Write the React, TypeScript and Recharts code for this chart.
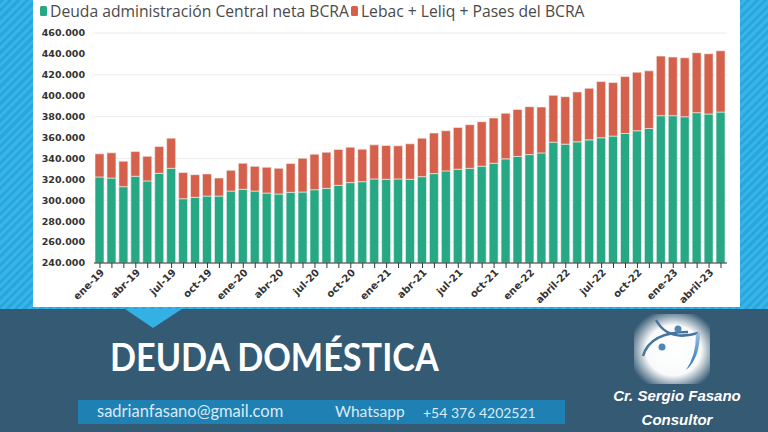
import React from 'react';
import { BarChart, Bar, XAxis, YAxis, CartesianGrid, Legend } from 'recharts';

const categories = [
  'ene-19', 'feb-19', 'mar-19', 'abr-19', 'may-19', 'jun-19', 'jul-19', 'ago-19', 'sep-19', 'oct-19', 'nov-19', 'dic-19',
  'ene-20', 'feb-20', 'mar-20', 'abr-20', 'may-20', 'jun-20', 'jul-20', 'ago-20', 'sep-20', 'oct-20', 'nov-20', 'dic-20',
  'ene-21', 'feb-21', 'mar-21', 'abr-21', 'may-21', 'jun-21', 'jul-21', 'ago-21', 'sep-21', 'oct-21', 'nov-21', 'dic-21',
  'ene-22', 'feb-22', 'mar-22', 'abril-22', 'may-22', 'jun-22', 'jul-22', 'ago-22', 'sep-22', 'oct-22', 'nov-22', 'dic-22',
  'ene-23', 'feb-23', 'mar-23', 'abril-23', 'may-23',
];

const deudaCentral = [
  322300, 321300, 313000, 323000, 318500, 325800, 330600, 301500, 302800, 304000, 304000, 308800,
  310500, 308800, 306900, 306000, 307600, 307900, 310100, 311400, 314300, 316900, 317800, 320400,
  320100, 320400, 320100, 322600, 325500, 328100, 329700, 330600, 332600, 335400, 339600, 342000,
  343700, 345300, 355600, 353700, 355900, 357800, 359800, 361400, 363900, 366500, 368700, 380900,
  380900, 379900, 383800, 382500, 384400,
];

const lebacLeliqPases = [
  22100, 24100, 24400, 23600, 23500, 25600, 28800, 25000, 21700, 21200, 17300, 19900,
  24900, 23700, 24700, 24600, 27500, 32300, 34000, 34600, 34300, 33900, 31100, 32600,
  32300, 31700, 33900, 36800, 38800, 38400, 40000, 41700, 42500, 43300, 43600, 44800,
  45800, 43900, 44800, 45400, 47700, 49300, 53700, 51200, 54400, 56000, 55100, 57000,
  56100, 56400, 57300, 57600, 58600,
];

const yTicks = [240000, 260000, 280000, 300000, 320000, 340000, 360000, 380000, 400000, 420000, 440000, 460000];

const seriesNames = ['Deuda administración Central neta BCRA', 'Lebac + Leliq + Pases del BCRA'];
const seriesColors = ['#27a884', '#d5604b'];

const data = categories.map((mes, i) => ({
  mes,
  central: deudaCentral[i],
  lebac: lebacLeliqPases[i],
}));

const fmt = (v: number) => String(Math.round(v)).replace(/\B(?=(\d{3})+(?!\d))/g, '.');

const XTick = (props: any) => {
  const { x, y, payload } = props;
  const i = props.index ?? payload?.index ?? 0;
  if (i % 3 !== 0) return <g />;
  return (
    <g transform={`translate(${x},${y})`}>
      <text
        x={0}
        y={0}
        dy="0.71em"
        textAnchor="end"
        transform="rotate(-45)"
        fontFamily="DejaVu Sans"
        fontWeight="bold"
        fontSize={10}
        fill="#333"
      >
        {payload.value}
      </text>
    </g>
  );
};

const renderLegend = () => (
  <div
    style={{
      height: 32,
      display: 'flex',
      alignItems: 'flex-start',
      paddingLeft: 3,
      fontFamily: '"Open Sans", sans-serif',
      fontSize: 15.7,
      color: '#4a4a4a',
      lineHeight: '20px',
      whiteSpace: 'nowrap',
    }}
  >
    {seriesNames.map((n, i) => (
      <span key={n} style={{ display: 'flex', alignItems: 'center', marginRight: 2 }}>
        <span
          style={{
            display: 'inline-block',
            width: 7,
            height: 10,
            borderRadius: 1.5,
            background: seriesColors[i],
            marginRight: 3,
          }}
        />
        {n}
      </span>
    ))}
  </div>
);

const Logo = () => (
  <svg width={80} height={74} style={{ position: 'absolute', left: 632, top: 312 }}>
    <defs>
      <radialGradient id="glow" cx="52%" cy="52%" r="60%">
        <stop offset="0%" stopColor="#ffffff" stopOpacity={1} />
        <stop offset="60%" stopColor="#ffffff" stopOpacity={0.97} />
        <stop offset="100%" stopColor="#ffffff" stopOpacity={0} />
      </radialGradient>
      <linearGradient id="swoosh" x1="0" y1="0" x2="0" y2="1">
        <stop offset="0%" stopColor="#9cc2e0" />
        <stop offset="100%" stopColor="#1f6fb8" />
      </linearGradient>
    </defs>
    <rect x={2} y={2} width={76} height={70} rx={14} fill="url(#glow)" />
    <path d="M 24 8 Q 36 30 66 21" stroke="#45759c" strokeWidth={2.5} fill="none" />
    <path d="M 11 44 Q 18 20 56 20" stroke="#45759c" strokeWidth={2.5} fill="none" />
    <path d="M 68 20 Q 68 46 54 58 Q 64 44 64 22 Z" fill="url(#swoosh)" />
    <circle cx={46} cy={17} r={3.5} fill="#4f87b4" />
    <circle cx={30} cy={35} r={3.5} fill="#4f87b4" />
  </svg>
);

const footerText: React.CSSProperties = {
  position: 'absolute',
  top: 402,
  fontFamily: 'Lato, sans-serif',
  fontSize: 15.5,
  lineHeight: '19px',
  color: '#dbeaf2',
  whiteSpace: 'nowrap',
};

const signText: React.CSSProperties = {
  position: 'absolute',
  left: 604,
  width: 146,
  textAlign: 'center',
  fontFamily: 'Liberation Sans, Arial, sans-serif',
  fontWeight: 700,
  fontStyle: 'italic',
  fontSize: 15,
  lineHeight: '20px',
  color: '#ffffff',
  whiteSpace: 'nowrap',
};

export default function App() {
  return (
    <div
      style={{
        position: 'absolute',
        left: 0,
        top: 0,
        width: 768,
        height: 432,
        overflow: 'hidden',
        background:
          'repeating-linear-gradient(135deg, #27a7df 0px, #27a7df 3px, #3ab3e6 3px, #3ab3e6 6px)',
      }}
    >
      <div style={{ position: 'absolute', left: 33, top: 0, width: 707, height: 307, background: '#ffffff' }}>
        <BarChart
          width={707}
          height={307}
          data={data}
          margin={{ top: 1, right: 13, bottom: 4, left: 4 }}
        >
          <CartesianGrid vertical={false} stroke="#ececec" />
          <XAxis
            dataKey="mes"
            interval={0}
            height={40}
            tick={XTick}
            tickSize={5}
            tickMargin={0}
            axisLine={{ stroke: '#333' }}
            tickLine={{ stroke: '#333' }}
          />
          <YAxis
            width={57}
            domain={[240000, 460000]}
            ticks={yTicks}
            allowDataOverflow
            tickFormatter={fmt}
            axisLine={false}
            tickLine={false}
            tickSize={0}
            tickMargin={9}
            tick={{ fontFamily: 'DejaVu Sans', fontWeight: 'bold', fontSize: 9.5, fill: '#333' }}
          />
          <Legend verticalAlign="top" align="left" content={renderLegend} />
          <Bar
            dataKey="central"
            stackId="a"
            name={seriesNames[0]}
            fill={seriesColors[0]}
            stroke="#eef6f2"
            strokeWidth={0.6}
            barSize={9}
            isAnimationActive={false}
          />
          <Bar
            dataKey="lebac"
            stackId="a"
            name={seriesNames[1]}
            fill={seriesColors[1]}
            stroke="#eef6f2"
            strokeWidth={0.6}
            barSize={9}
            isAnimationActive={false}
          />
        </BarChart>
      </div>

      <div style={{ position: 'absolute', left: 0, top: 309, width: 768, height: 123, background: '#345a74' }} />
      <svg width={768} height={40} style={{ position: 'absolute', left: 0, top: 305 }}>
        <polygon points="125,4 182,4 153,23" fill="#33b0e4" />
      </svg>

      <div
        style={{
          position: 'absolute',
          left: 110,
          top: 334,
          fontFamily: 'Lato, sans-serif',
          fontWeight: 700,
          fontSize: 38,
          lineHeight: '44px',
          color: '#ffffff',
          whiteSpace: 'nowrap',
          transform: 'scaleX(0.9)',
          transformOrigin: 'left center',
        }}
      >
        DEUDA DOMÉSTICA
      </div>

      <div
        style={{
          position: 'absolute',
          left: 78,
          top: 400,
          width: 487,
          height: 24,
          background: '#1f80b3',
        }}
      />
      <div style={{ ...footerText, left: 97, fontSize: 16.5 }}>sadrianfasano@gmail.com</div>
      <div style={{ ...footerText, left: 335 }}>Whatsapp</div>
      <div style={{ ...footerText, left: 423, fontSize: 14, top: 403 }}>+54 376 4202521</div>

      <Logo />

      <div style={{ ...signText, top: 386 }}>Cr. Sergio Fasano</div>
      <div style={{ ...signText, top: 410 }}>Consultor</div>
    </div>
  );
}
